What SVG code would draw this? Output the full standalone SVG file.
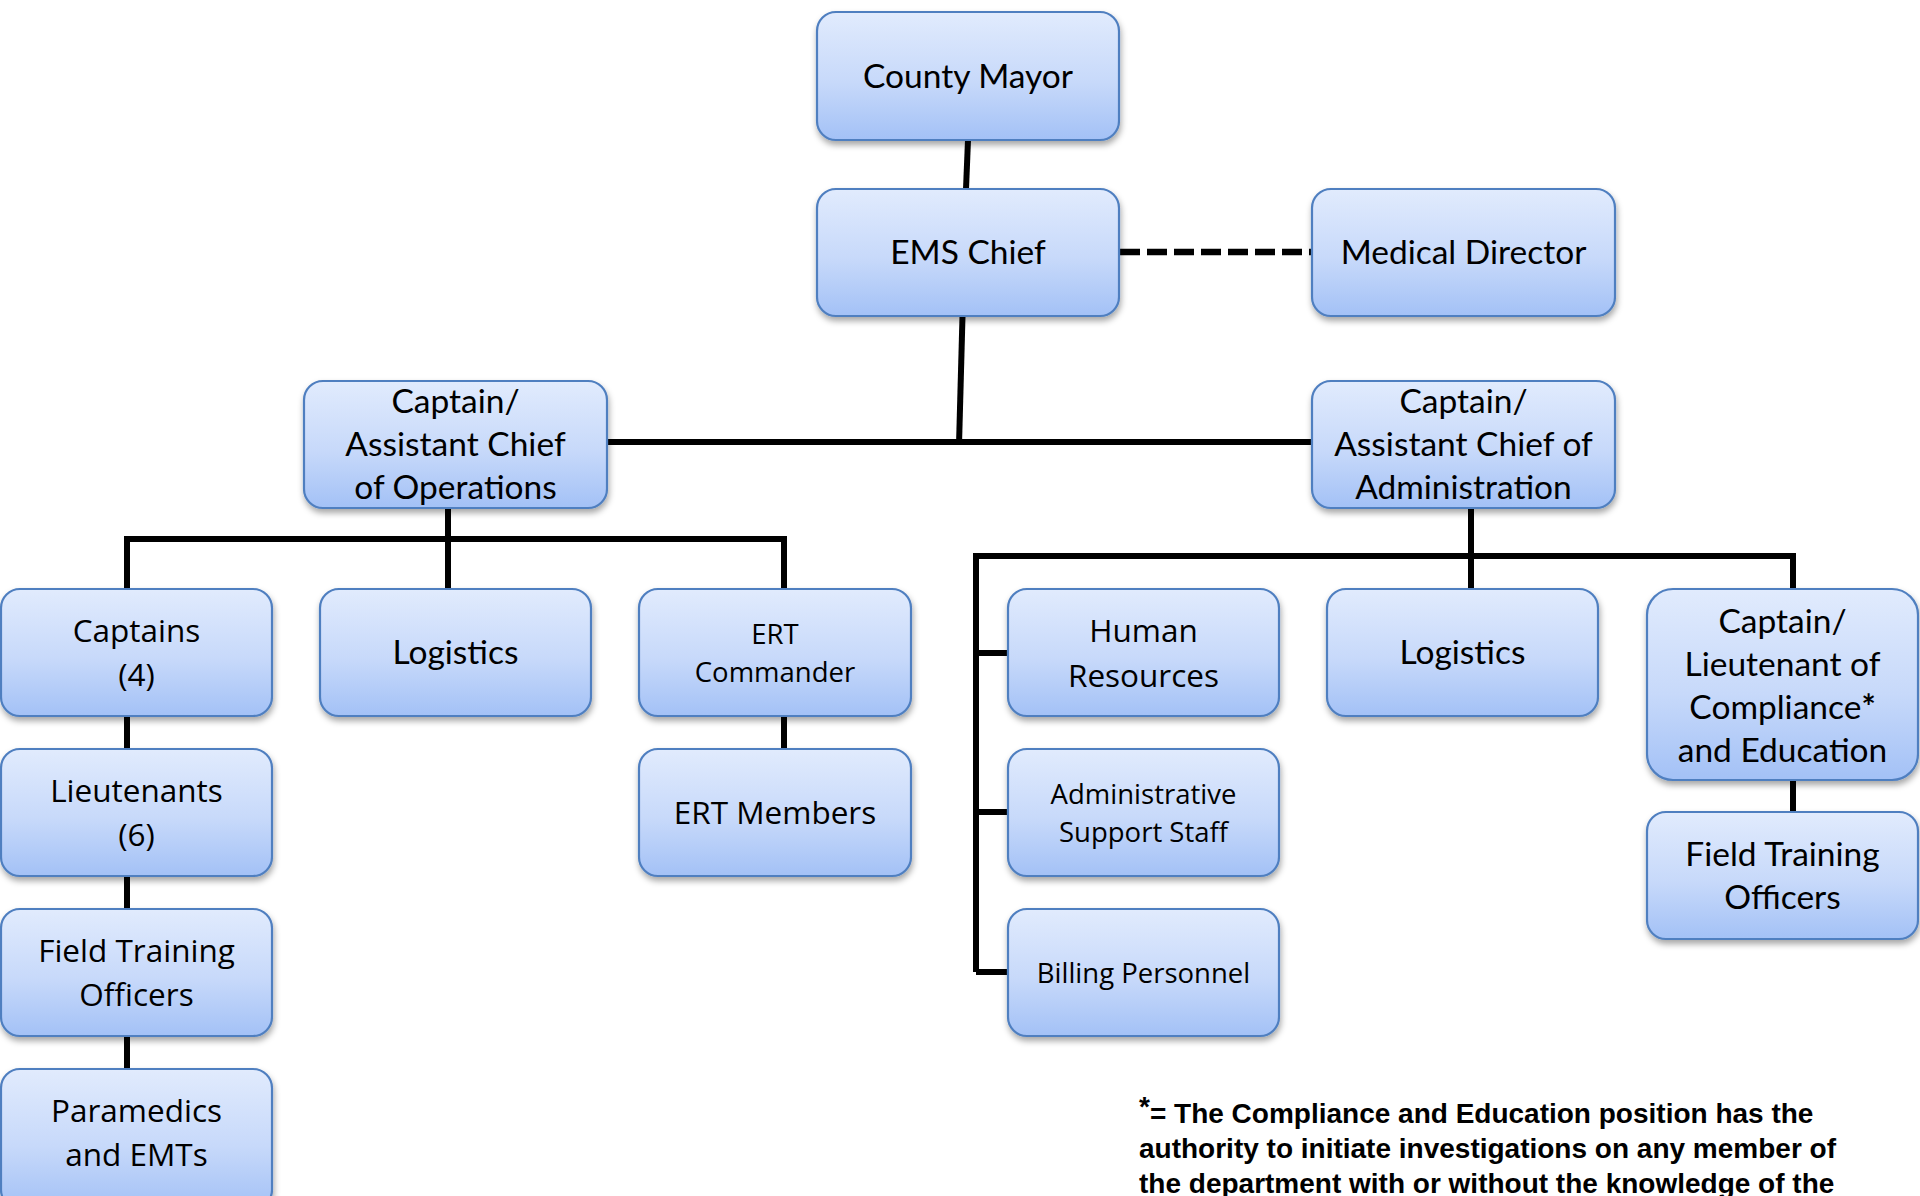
<svg xmlns="http://www.w3.org/2000/svg" width="1920" height="1196" viewBox="0 0 1920 1196">
<defs>
  <linearGradient id="g" x1="0" y1="0" x2="0" y2="1">
    <stop offset="0" stop-color="#e1ebfd"/>
    <stop offset="0.55" stop-color="#c7d9fa"/>
    <stop offset="1" stop-color="#a3c1f6"/>
  </linearGradient>
  <filter id="sh" x="-10%" y="-10%" width="125%" height="135%">
    <feDropShadow dx="1" dy="4" stdDeviation="3" flood-color="#000" flood-opacity="0.35"/>
  </filter>
</defs>
<style>
  .box { fill: url(#g); stroke: #4f7fc0; stroke-width: 2.2; filter: url(#sh); }
  .ln { stroke: #000; stroke-width: 6; fill: none; }
  .dash { stroke: #000; stroke-width: 6.5; fill: none; stroke-dasharray: 20 7; }
  .cal { font-family: Lato, "Open Sans", sans-serif; font-size: 33.5px; fill: #000; text-anchor: middle; }
  .seg { font-family: "Open Sans", "Noto Sans", sans-serif; font-size: 31.5px; fill: #000; text-anchor: middle; }
  .sm { font-size: 27.5px; }
  .note { font-family: "Liberation Sans", Arial, sans-serif; font-weight: bold; font-size: 28px; fill: #000; }
</style>
<rect width="1920" height="1196" fill="#fff"/>

<g id="connectors">
  <line class="ln" x1="968" y1="140" x2="966" y2="189"/>
  <line class="ln" x1="962.5" y1="316" x2="959" y2="445"/>
  <line class="ln" x1="607" y1="442" x2="1312" y2="442"/>
  <line class="dash" x1="1120" y1="252" x2="1312" y2="252"/>
  <line class="ln" x1="448" y1="508" x2="448" y2="589"/>
  <polyline class="ln" points="127,589 127,539 784,539 784,589"/>
  <line class="ln" x1="127" y1="716" x2="127" y2="749"/>
  <line class="ln" x1="127" y1="876" x2="127" y2="909"/>
  <line class="ln" x1="127" y1="1036" x2="127" y2="1069"/>
  <line class="ln" x1="784" y1="716" x2="784" y2="749"/>
  <line class="ln" x1="1471" y1="508" x2="1471" y2="589"/>
  <polyline class="ln" points="976,972 976,556 1793,556 1793,589"/>
  <line class="ln" x1="976" y1="653" x2="1008" y2="653"/>
  <line class="ln" x1="976" y1="812" x2="1008" y2="812"/>
  <line class="ln" x1="976" y1="972" x2="1008" y2="972"/>
  <line class="ln" x1="1793" y1="780" x2="1793" y2="812"/>
</g>

<g id="county-mayor">
  <rect class="box" x="817" y="12" width="302" height="128" rx="19"/>
  <text class="cal" x="968" y="88">County Mayor</text>
</g>
<g id="ems-chief">
  <rect class="box" x="817" y="189" width="302" height="127" rx="19"/>
  <text class="cal" x="968" y="264">EMS Chief</text>
</g>
<g id="medical-director">
  <rect class="box" x="1312" y="189" width="303" height="127" rx="19"/>
  <text class="cal" x="1463.5" y="264">Medical Director</text>
</g>
<g id="asst-chief-ops">
  <rect class="box" x="304" y="381" width="303" height="127" rx="19"/>
  <text class="cal" x="455.5" y="413">Captain/</text>
  <text class="cal" x="455.5" y="456">Assistant Chief</text>
  <text class="cal" x="455.5" y="499">of Operations</text>
</g>
<g id="asst-chief-admin">
  <rect class="box" x="1312" y="381" width="303" height="127" rx="19"/>
  <text class="cal" x="1463.5" y="413">Captain/</text>
  <text class="cal" x="1463.5" y="456">Assistant Chief of</text>
  <text class="cal" x="1463.5" y="499">Administration</text>
</g>
<g id="captains">
  <rect class="box" x="1" y="589" width="271" height="127" rx="19"/>
  <text class="seg" x="136.5" y="642">Captains</text>
  <text class="seg" x="136.5" y="686">(4)</text>
</g>
<g id="logistics-ops">
  <rect class="box" x="320" y="589" width="271" height="127" rx="19"/>
  <text class="cal" x="455.5" y="664">Logistics</text>
</g>
<g id="ert-commander">
  <rect class="box" x="639" y="589" width="272" height="127" rx="19"/>
  <text class="seg sm" x="775" y="644">ERT</text>
  <text class="seg sm" x="775" y="682">Commander</text>
</g>
<g id="human-resources">
  <rect class="box" x="1008" y="589" width="271" height="127" rx="19"/>
  <text class="seg" x="1143.5" y="642">Human</text>
  <text class="seg" x="1143.5" y="687">Resources</text>
</g>
<g id="logistics-admin">
  <rect class="box" x="1327" y="589" width="271" height="127" rx="19"/>
  <text class="cal" x="1462.5" y="664">Logistics</text>
</g>
<g id="compliance">
  <rect class="box" x="1647" y="589" width="271" height="191" rx="26"/>
  <text class="cal" x="1782.5" y="633">Captain/</text>
  <text class="cal" x="1782.5" y="676">Lieutenant of</text>
  <text class="cal" x="1782.5" y="719">Compliance<tspan font-weight="bold">*</tspan></text>
  <text class="cal" x="1782.5" y="762">and Education</text>
</g>
<g id="lieutenants">
  <rect class="box" x="1" y="749" width="271" height="127" rx="19"/>
  <text class="seg" x="136.5" y="802">Lieutenants</text>
  <text class="seg" x="136.5" y="846">(6)</text>
</g>
<g id="ert-members">
  <rect class="box" x="639" y="749" width="272" height="127" rx="19"/>
  <text class="seg" x="775" y="824">ERT Members</text>
</g>
<g id="admin-support">
  <rect class="box" x="1008" y="749" width="271" height="127" rx="19"/>
  <text class="seg sm" x="1143.5" y="804">Administrative</text>
  <text class="seg sm" x="1143.5" y="842">Support Staff</text>
</g>
<g id="fto-right">
  <rect class="box" x="1647" y="812" width="271" height="127" rx="19"/>
  <text class="cal" x="1782.5" y="866">Field Training</text>
  <text class="cal" x="1782.5" y="909">Officers</text>
</g>
<g id="fto-left">
  <rect class="box" x="1" y="909" width="271" height="127" rx="19"/>
  <text class="seg" x="136.5" y="962">Field Training</text>
  <text class="seg" x="136.5" y="1006">Officers</text>
</g>
<g id="billing">
  <rect class="box" x="1008" y="909" width="271" height="127" rx="19"/>
  <text class="seg sm" x="1143.5" y="983">Billing Personnel</text>
</g>
<g id="paramedics">
  <rect class="box" x="1" y="1069" width="271" height="140" rx="19"/>
  <text class="seg" x="136.5" y="1122">Paramedics</text>
  <text class="seg" x="136.5" y="1166">and EMTs</text>
</g>

<g id="footnote">
  <text class="note" x="1139" y="1123"><tspan dy="-7">*</tspan><tspan dy="7">= The Compliance and Education position has the</tspan></text>
  <text class="note" x="1139" y="1158">authority to initiate investigations on any member of</text>
  <text class="note" x="1139" y="1193">the department with or without the knowledge of the</text>
</g>
</svg>
